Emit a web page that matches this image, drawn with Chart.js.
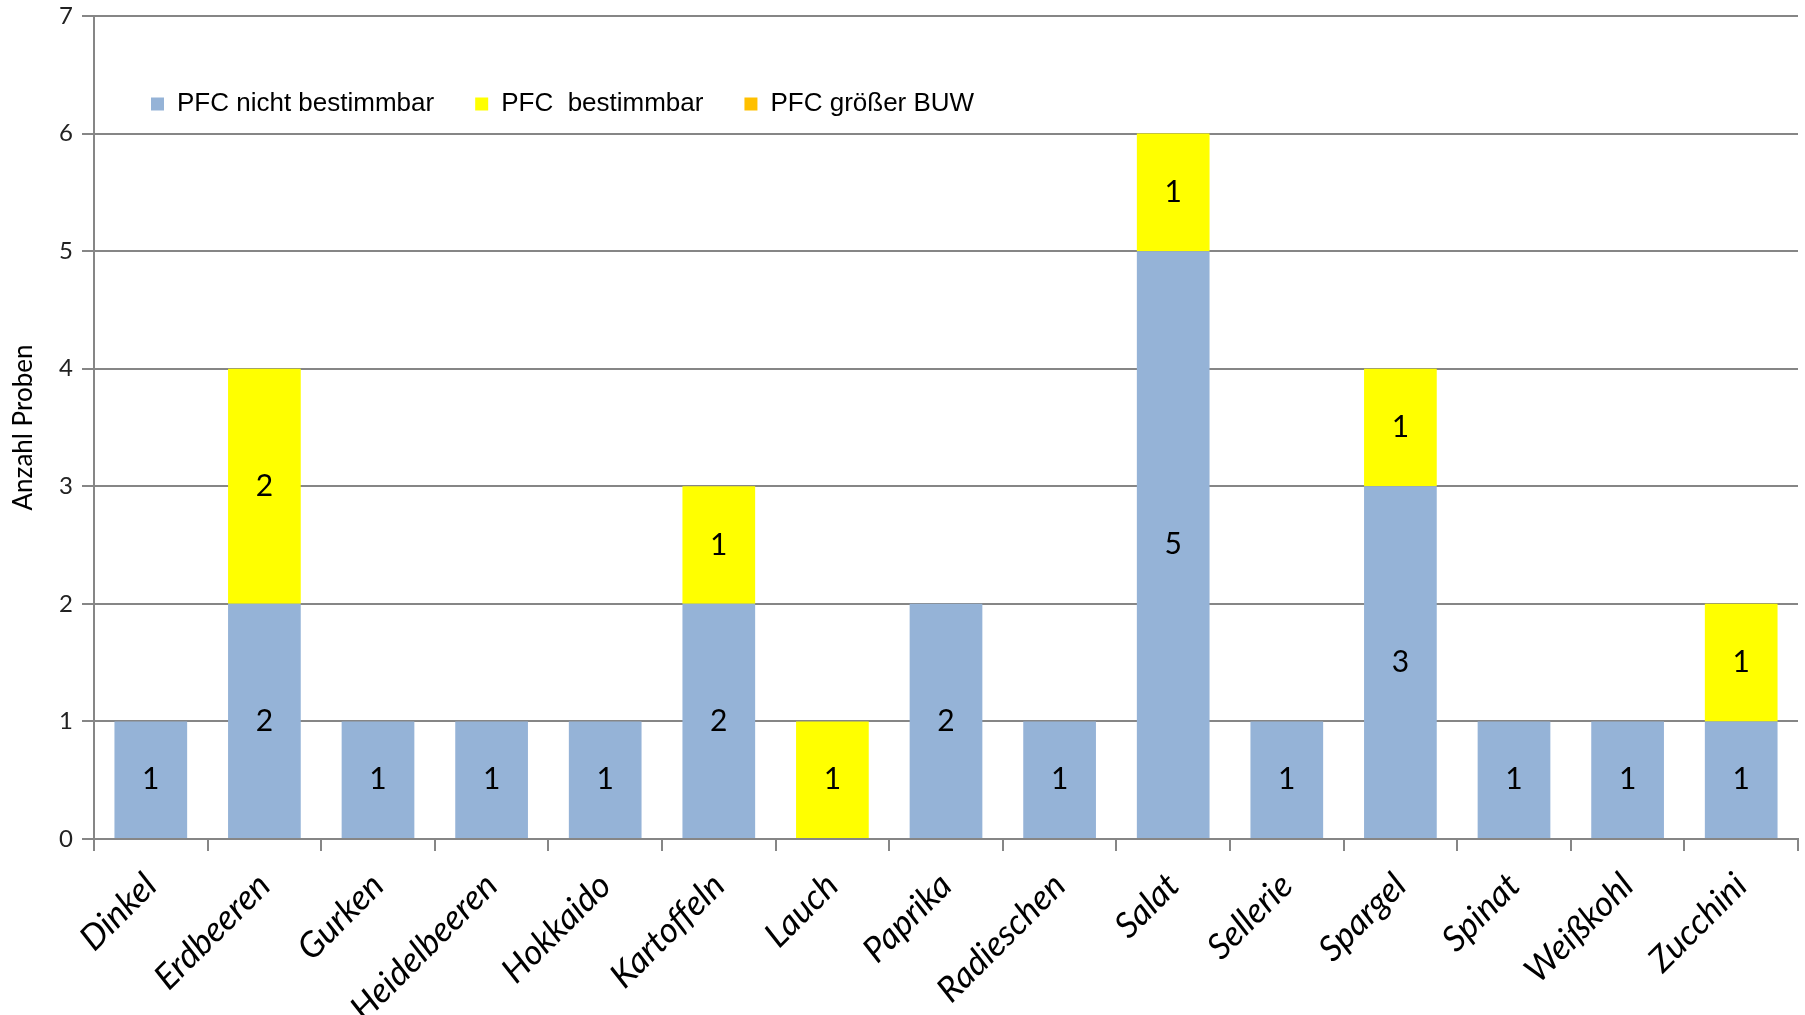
<!DOCTYPE html>
<html>
<head>
<meta charset="utf-8">
<script src="https://cdn.jsdelivr.net/npm/chart.js@4/dist/chart.umd.min.js"></script>
<style>
  html, body { margin: 0; padding: 0; background: #fff; }
  canvas { display: block; }
</style>
</head>
<body>
<canvas id="myChart" width="1805" height="1015"></canvas>
<script>
// categories and values
let categories = ["Dinkel", "Erdbeeren", "Gurken", "Heidelbeeren", "Hokkaido", "Kartoffeln", "Lauch",
  "Paprika", "Radieschen", "Salat", "Sellerie", "Spargel", "Spinat", "Weißkohl", "Zucchini"];
let nichtBestimmbar = [1, 2, 1, 1, 1, 2, 0, 2, 1, 5, 1, 3, 1, 1, 1];
let bestimmbar = [0, 2, 0, 0, 0, 1, 1, 0, 0, 1, 0, 1, 0, 0, 1];
let groesserBUW = [0, 0, 0, 0, 0, 0, 0, 0, 0, 0, 0, 0, 0, 0, 0];
let seriesNames = ["PFC nicht bestimmbar", "PFC  bestimmbar", "PFC größer BUW"];
let yTicks = [0, 1, 2, 3, 4, 5, 6, 7];

let gridGray = "#868686";

// writes the value in the middle of each bar segment
let barValues = {
  id: "barValues",
  afterDatasetsDraw(chart) {
    let ctx = chart.ctx;
    ctx.save();
    ctx.font = "30px Lato";
    ctx.fillStyle = "#000";
    ctx.textAlign = "center";
    ctx.textBaseline = "middle";
    chart.data.datasets.forEach((ds, i) => {
      let meta = chart.getDatasetMeta(i);
      meta.data.forEach((bar, j) => {
        if (ds.data[j] > 0) {
          ctx.fillText(ds.data[j], bar.x, (bar.y + bar.base) / 2);
        }
      });
    });
    ctx.restore();
  }
};

// legend sits inside the plot area, in one row, a bit down and right
let legendShift = {
  id: "legendShift",
  beforeLayout(chart) {
    if (chart.legend) {
      chart.legend.isHorizontal = () => true;
    }
  },
  afterLayout(chart) {
    let area = chart.chartArea;
    let w = chart.legend.width;
    chart.legend.left = area.left + 16;
    chart.legend.right = chart.legend.left + w;
    chart.legend.top = area.top + 34;
  }
};

let ctx = document.getElementById("myChart").getContext("2d");
let chart = new Chart(ctx, {
  type: "bar",
  data: {
    labels: categories,
    datasets: [
      { label: seriesNames[0], data: nichtBestimmbar, backgroundColor: "#95B3D7" },
      { label: seriesNames[1], data: bestimmbar, backgroundColor: "#FFFF00" },
      { label: seriesNames[2], data: groesserBUW, backgroundColor: "#FFC000" }
    ]
  },
  options: {
    responsive: false,
    animation: false,
    devicePixelRatio: 1,
    layout: { padding: { top: 16, right: 7, bottom: 0, left: 0 } },
    datasets: {
      bar: { categoryPercentage: 1, barPercentage: 0.64 }
    },
    plugins: {
      tooltip: { enabled: false },
      legend: {
        position: "chartArea",
        align: "start",
        labels: {
          font: { family: "'Liberation Sans', Arial", size: 26 },
          color: "#000",
          boxWidth: 13,
          boxHeight: 13,
          padding: 41
        }
      }
    },
    scales: {
      x: {
        stacked: true,
        afterFit(axis) { axis.height = 176; },
        grid: { offset: true, drawOnChartArea: false, drawTicks: true, tickLength: 12, color: gridGray, lineWidth: 2 },
        border: { color: gridGray, width: 2 },
        ticks: {
          minRotation: 45,
          maxRotation: 45,
          padding: 14,
          color: "#000",
          font: { family: "Lato", size: 35, style: "italic" }
        }
      },
      y: {
        stacked: true,
        min: 0,
        max: 7,
        afterFit(axis) {
          axis.width = 94;
          axis.paddingTop = 10;
          axis.paddingBottom = 10;
        },
        afterBuildTicks(axis) { axis.ticks = yTicks.map(v => ({ value: v })); },
        grid: { color: gridGray, lineWidth: 2, tickLength: 12 },
        border: { color: gridGray, width: 2 },
        ticks: {
          padding: 9,
          color: "#222",
          font: { family: "Lato", size: 24 }
        },
        title: {
          display: true,
          text: "Anzahl Proben",
          color: "#000",
          font: { family: "Lato", size: 26 },
          padding: { top: 8, bottom: 0 }
        }
      }
    }
  },
  plugins: [barValues, legendShift]
});
</script>
</body>
</html>
